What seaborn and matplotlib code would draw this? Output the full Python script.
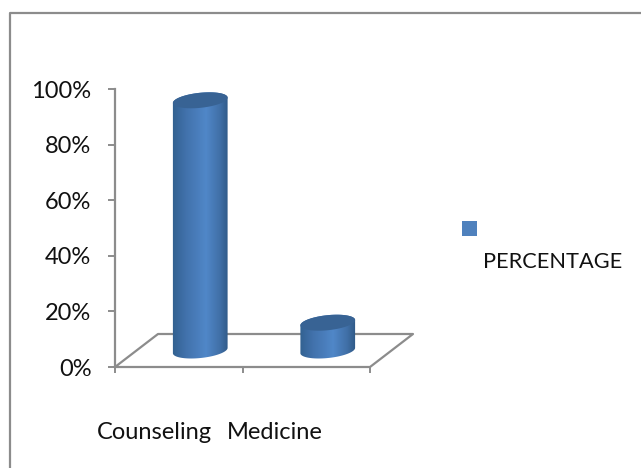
import numpy as np
import pandas as pd
import seaborn as sns
import matplotlib.pyplot as plt
from matplotlib.patches import Polygon, Rectangle
from matplotlib.transforms import IdentityTransform
from matplotlib.colors import LinearSegmentedColormap

categories = ["Counseling", "Medicine"]
percentages = [90, 10]
y_ticks = [0, 20, 40, 60, 80, 100]
y_labels = ["0%", "20%", "40%", "60%", "80%", "100%"]
series_name = "PERCENTAGE"

W, H = 641, 468
GREY = "#8c8c8c"
TXT = "#111111"

sns.set_theme(style="white")
plt.rcParams['font.family'] = ['Lato', 'DejaVu Sans']

fig = plt.figure(figsize=(W / 100, H / 100), dpi=100, facecolor="white")

# frame round the chart, only left and top are inside the picture
fig.add_artist(plt.Line2D([10 / W, 10 / W, 1],
                          [0, 1 - 13 / H, 1 - 13 / H],
                          color=GREY, lw=1.6))

# front axis plane
left, right, top, bottom = 115, 370, 89, 367
ax = fig.add_axes([left / W, 1 - bottom / H, (right - left) / W, (bottom - top) / H])
ax.set_xlim(-0.5, 1.5)
ax.set_ylim(0, 100)
ax.patch.set_alpha(0)
ax.set_yticks(y_ticks)
ax.set_yticklabels(y_labels, fontsize=17, color=TXT)
ax.set_xticks([-0.5, 0.5, 1.5])
ax.set_xticklabels([])
ax.tick_params(axis="y", length=5, width=1.4, color=GREY, direction="out", left=True, pad=12)
ax.tick_params(axis="x", length=4, width=1.4, color=GREY, direction="out", bottom=True)
sns.despine(ax=ax, top=True, right=True, bottom=True)
ax.spines["left"].set_color(GREY)
ax.spines["left"].set_linewidth(1.6)

# floor of the 3d box
depth_x, depth_y = 43 / 127.5, 33 / 278 * 100
ax.plot([-0.5, 1.5, 1.5 + depth_x, -0.5 + depth_x, -0.5],
        [0, 0, depth_y, depth_y, 0], color=GREY, lw=1.6, clip_on=False, zorder=1)

# bars sit half way into the box, on their own transparent axes
off_x, off_y = 21.5, 16.5
bx = fig.add_axes([(left + off_x) / W, 1 - (bottom - off_y) / H,
                   (right - left) / W, (bottom - top) / H], zorder=3)
bx.patch.set_alpha(0)
df = pd.DataFrame({"category": categories, "percentage": percentages})
sns.barplot(data=df, x="category", y="percentage", ax=bx, width=0.42,
            color="#4f81bd", saturation=1)
bx.set_xlim(-0.5, 1.5)
bx.set_ylim(0, 100)
bx.axis("off")

fig.canvas.draw()

cyl = LinearSegmentedColormap.from_list(
    "cyl", [(0, "#31608f"), (0.25, "#4272ac"), (0.6, "#5087c8"),
            (0.85, "#406fa6"), (1, "#2e5885")])
grad = np.linspace(0, 1, 256).reshape(1, -1)
theta = np.deg2rad(6)
rx, ry = 27.5, 7.5


def rim(cx, cy, t):
    x = cx + rx * np.cos(t) * np.cos(theta) - ry * np.sin(t) * np.sin(theta)
    y = cy + rx * np.cos(t) * np.sin(theta) + ry * np.sin(t) * np.cos(theta)
    return np.column_stack([x, y])


for bar in list(bx.patches):
    (x0, y0), (x1, y1) = bx.transData.transform(
        [(bar.get_x(), bar.get_y()), (bar.get_x() + bar.get_width(), bar.get_y() + bar.get_height())])
    cx = (x0 + x1) / 2
    outline = np.vstack([rim(cx, y0, np.linspace(np.pi, 2 * np.pi, 60)),
                         rim(cx, y1, np.linspace(0, np.pi, 60))])
    body = Polygon(outline, closed=True, transform=IdentityTransform())
    # gradient stretched over the width of the bar, clipped to the cylinder
    (d0, _), (d1, _) = bx.transData.inverted().transform([(cx - rx - 1, 0), (cx + rx + 1, 0)])
    (_, e0), (_, e1) = bx.transData.inverted().transform([(0, y0 - 12), (0, y1 + 12)])
    img = bx.imshow(grad, extent=[d0, d1, e0, e1], aspect="auto", cmap=cyl, zorder=3)
    img.set_clip_box(fig.bbox)
    img.set_clip_path(body.get_path(), IdentityTransform())
    cap = Polygon(rim(cx, y1, np.linspace(0, 2 * np.pi, 120)), closed=True,
                  transform=IdentityTransform(), facecolor="#386394", edgecolor="none", zorder=4)
    bx.add_artist(cap)
    bar.set_visible(False)
bx.set_xlim(-0.5, 1.5)
bx.set_ylim(0, 100)

# legend, swatch and label are placed apart in the reference
fig.add_artist(Rectangle((462 / W, 1 - 236 / H), 15 / W, 15 / H, transform=fig.transFigure,
                         facecolor="#4f81bd", edgecolor="none"))
fig.text(483 / W, 1 - 261.5 / H, series_name, fontsize=15.7, color=TXT, va="center", ha="left")

# category names sit close together under the axis
fig.text(97 / W, 1 - 432.5 / H, categories[0], fontsize=17, color=TXT, va="center", ha="left")
fig.text(227 / W, 1 - 432.5 / H, categories[1], fontsize=17, color=TXT, va="center", ha="left")

fig.savefig("out.png", dpi=100, facecolor="white")
